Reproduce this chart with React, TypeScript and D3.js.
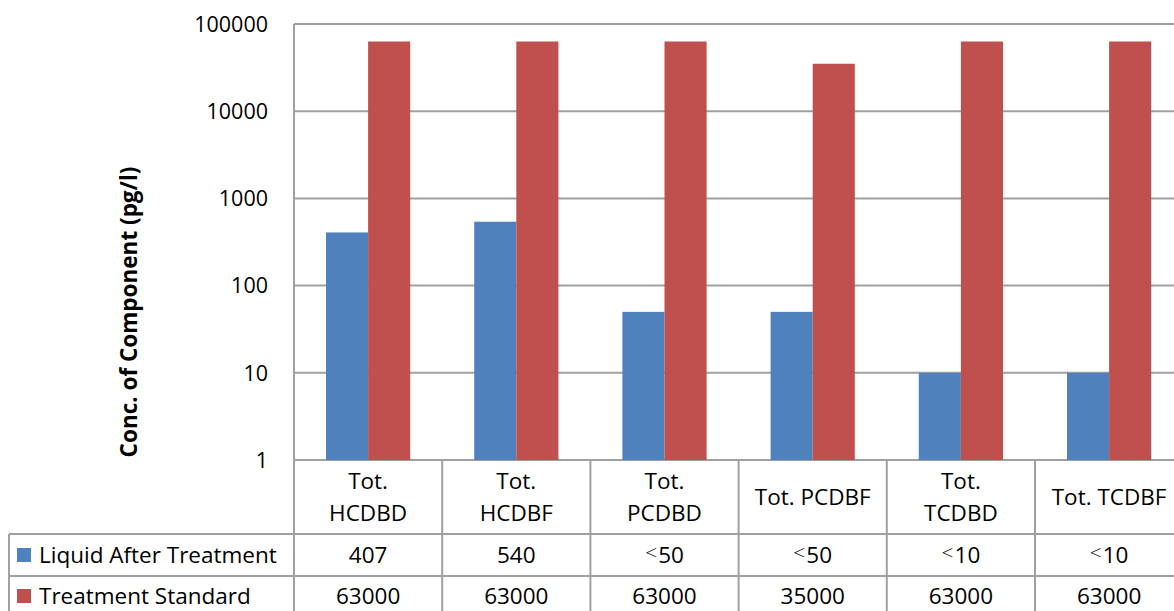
import React from "react";
import * as d3 from "d3";

const categories = ["Tot.\nHCDBD", "Tot.\nHCDBF", "Tot.\nPCDBD", "Tot. PCDBF", "Tot.\nTCDBD", "Tot. TCDBF"];
const seriesNames = ["Liquid After Treatment", "Treatment Standard"];
const liquidValues = [407, 540, 50, 50, 10, 10];
const standardValues = [63000, 63000, 63000, 35000, 63000, 63000];
const liquidLabels = ["407", "540", "<50", "<50", "<10", "<10"];
const standardLabels = ["63000", "63000", "63000", "35000", "63000", "63000"];
const yTicks = [1, 10, 100, 1000, 10000, 100000];
const colors = ["#4F81BD", "#C0504D"];

const W = 1174, H = 611;
const plotLeft = 294, plotTop = 24, plotBottom = 460;
const colW = 148.2;
const plotRight = plotLeft + colW * categories.length;
const tableLeft = 9;
const row1Top = 534, row2Top = 576, row3Bottom = 618;
const FONT = "'Open Sans', 'Liberation Sans', sans-serif";
const GRID = "#a0a0a0";
const FS = 22.5;
const BASE_DY = FS * 0.36;

function cellText(s: string) {
  if (s.startsWith("<")) {
    return [
      <tspan key="a" fontSize={21} fontWeight={300} dy={BASE_DY - 3}>{"<"}</tspan>,
      <tspan key="b" dy={3} dx={1}>{s.slice(1)}</tspan>,
    ];
  }
  return <tspan dy={BASE_DY}>{s}</tspan>;
}

export default function App() {
  const y = d3.scaleLog().domain([1, 100000]).range([plotBottom, plotTop]);
  const x = d3.scaleBand<string>().domain(categories).range([plotLeft, plotRight]).padding(0);
  const inner = d3.scaleBand<number>().domain([0, 1]).range([32, x.bandwidth() - 32]).padding(0);
  const series = [liquidValues, standardValues];
  const rowLabels = [liquidLabels, standardLabels];
  const rowCenters = [555, 596];

  return (
    <svg width={W} height={H} style={{ position: "absolute", left: 0, top: 0, background: "#fff" }} fontFamily={FONT}>
      {yTicks.map((t) => (
        <line key={"g" + t} x1={plotLeft} x2={plotRight} y1={y(t)} y2={y(t)} stroke={GRID} strokeWidth={2} />
      ))}
      {yTicks.map((t) => (
        <text key={"t" + t} x={268} y={y(t)} dy="0.36em" textAnchor="end" fontSize={21.5} fill="#000">
          {String(t)}
        </text>
      ))}
      {categories.map((c, i) =>
        series.map((s, j) => (
          <rect
            key={c + j}
            x={(x(c) as number) + (inner(j) as number)}
            y={y(s[i])}
            width={inner.bandwidth()}
            height={plotBottom - y(s[i])}
            fill={colors[j]}
          />
        ))
      )}
      <line x1={plotLeft} x2={plotLeft} y1={plotTop} y2={row3Bottom} stroke={GRID} strokeWidth={2} />
      <text
        transform={`translate(137,312) rotate(-90)`}
        textAnchor="middle"
        fontSize={22.5}
        fontWeight="bold"
        fill="#000"
      >
        Conc. of Component (pg/l)
      </text>
      {categories.map((c, i) => (
        <line key={"v" + i} x1={(x(c) as number) + colW} x2={(x(c) as number) + colW} y1={plotBottom} y2={row3Bottom} stroke={GRID} strokeWidth={2} />
      ))}
      <line x1={tableLeft} x2={plotRight} y1={row1Top} y2={row1Top} stroke={GRID} strokeWidth={2} />
      <line x1={tableLeft} x2={plotRight} y1={row2Top} y2={row2Top} stroke={GRID} strokeWidth={2} />
      <line x1={tableLeft} x2={tableLeft} y1={row1Top} y2={row3Bottom} stroke={GRID} strokeWidth={2} />
      {categories.map((c) => {
        const lines = c.split("\n");
        const cx = (x(c) as number) + colW / 2;
        const mid = (plotBottom + row1Top) / 2;
        return (
          <text key={"c" + c} x={cx} textAnchor="middle" fontSize={FS} fill="#000">
            {lines.map((l, k) => (
              <tspan key={k} x={cx} y={mid + (k - (lines.length - 1) / 2) * 32} dy="0.36em">
                {l}
              </tspan>
            ))}
          </text>
        );
      })}
      {seriesNames.map((n, j) => {
        const cy = rowCenters[j];
        return (
          <g key={n}>
            <rect x={17} y={cy - 7} width={14} height={14} fill={colors[j]} />
            <text x={39} y={cy} dy="0.36em" fontSize={FS} fill="#000">
              {n}
            </text>
            {categories.map((c, i) => (
              <text key={c} x={(x(c) as number) + colW / 2} y={cy} textAnchor="middle" fontSize={FS} fill="#000">
                {cellText(rowLabels[j][i])}
              </text>
            ))}
          </g>
        );
      })}
    </svg>
  );
}
